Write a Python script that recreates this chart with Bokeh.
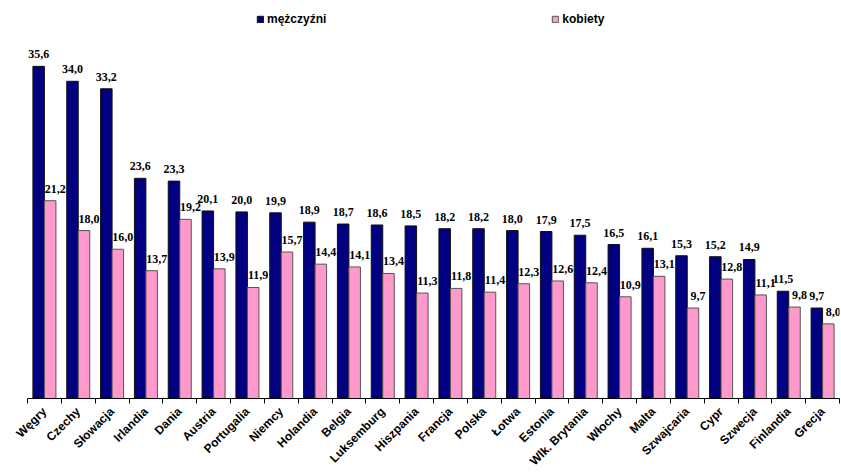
from bokeh.plotting import figure
from bokeh.models import ColumnDataSource, LabelSet, FixedTicker, Range1d, Legend, LegendItem
from bokeh.transform import dodge
from bokeh.embed import file_html
from bokeh.resources import INLINE

countries = ["Węgry", "Czechy", "Słowacja", "Irlandia", "Dania", "Austria", "Portugalia",
             "Niemcy", "Holandia", "Belgia", "Luksemburg", "Hiszpania", "Francja", "Polska",
             "Łotwa", "Estonia", "Wlk. Brytania", "Włochy", "Malta", "Szwajcaria", "Cypr",
             "Szwecja", "Finlandia", "Grecja"]
men = [35.6, 34.0, 33.2, 23.6, 23.3, 20.1, 20.0, 19.9, 18.9, 18.7, 18.6, 18.5, 18.2, 18.2,
       18.0, 17.9, 17.5, 16.5, 16.1, 15.3, 15.2, 14.9, 11.5, 9.7]
women = [21.2, 18.0, 16.0, 13.7, 19.2, 13.9, 11.9, 15.7, 14.4, 14.1, 13.4, 11.3, 11.8, 11.4,
         12.3, 12.6, 12.4, 10.9, 13.1, 9.7, 12.8, 11.1, 9.8, 8.0]

NAVY = "#000080"
PINK = "#FF99CC"
FONT = "Liberation Sans"

xs = list(range(len(countries)))
src = ColumnDataSource(dict(
    x=xs, men=men, women=women,
    men_lbl=[f"{v:.1f}".replace(".", ",") for v in men],
    women_lbl=[f"{v:.1f}".replace(".", ",") for v in women],
))

p = figure(width=841, height=476, output_backend="svg", toolbar_location=None,
           x_range=Range1d(-0.5, len(countries) - 0.5), y_range=Range1d(0, 42.66),
           min_border_left=27, min_border_right=2, min_border_top=0, min_border_bottom=78)

bw = 0.34
r_men = p.vbar(x=dodge("x", -bw / 2), top="men", width=bw, source=src,
               fill_color=NAVY, line_color="#111111", line_width=1)
r_women = p.vbar(x=dodge("x", bw / 2), top="women", width=bw, source=src,
                 fill_color=PINK, line_color="#555555", line_width=1)

# value labels: centred over the navy bars, nudged right over the pink ones
for col, lbl, off, xo in (("men", "men_lbl", -bw / 2, 0), ("women", "women_lbl", bw / 2, 5)):
    p.add_layout(LabelSet(x=dodge("x", off), y=col, text=lbl, source=src,
                          x_offset=xo, y_offset=8, text_align="center",
                          text_baseline="alphabetic",
                          text_font=FONT, text_font_size="12px", text_font_style="bold",
                          text_color="black"))

# axis: category names under the group centres, tick marks between groups
ax = p.xaxis[0]
ax.ticker = FixedTicker(ticks=xs, minor_ticks=[i - 0.5 for i in range(len(countries) + 1)])
ax.major_label_overrides = {i: c for i, c in enumerate(countries)}
ax.major_label_orientation = 0.785398
ax.major_tick_out = 0
ax.major_tick_in = 0
ax.minor_tick_out = 5
ax.minor_tick_in = 0
ax.minor_tick_line_color = "black"
ax.axis_line_color = "black"
ax.major_label_standoff = 6
ax.major_label_text_font = FONT
ax.major_label_text_font_size = "12px"
ax.major_label_text_font_style = "bold"
ax.major_label_text_color = "black"

p.yaxis.visible = False
p.xgrid.visible = False
p.ygrid.visible = False
p.outline_line_color = None

legend = Legend(items=[LegendItem(label="mężczyźni", renderers=[r_men]),
                       LegendItem(label="kobiety", renderers=[r_women])],
                orientation="horizontal", location=(229, 372),
                glyph_width=8, glyph_height=8, label_standoff=3, spacing=225,
                padding=0, margin=0, border_line_color=None, background_fill_alpha=0,
                label_text_font=FONT, label_text_font_size="12px",
                label_text_font_style="bold", label_text_color="black")
p.add_layout(legend, "center")

open("out.html", "w").write(file_html(p, INLINE))
